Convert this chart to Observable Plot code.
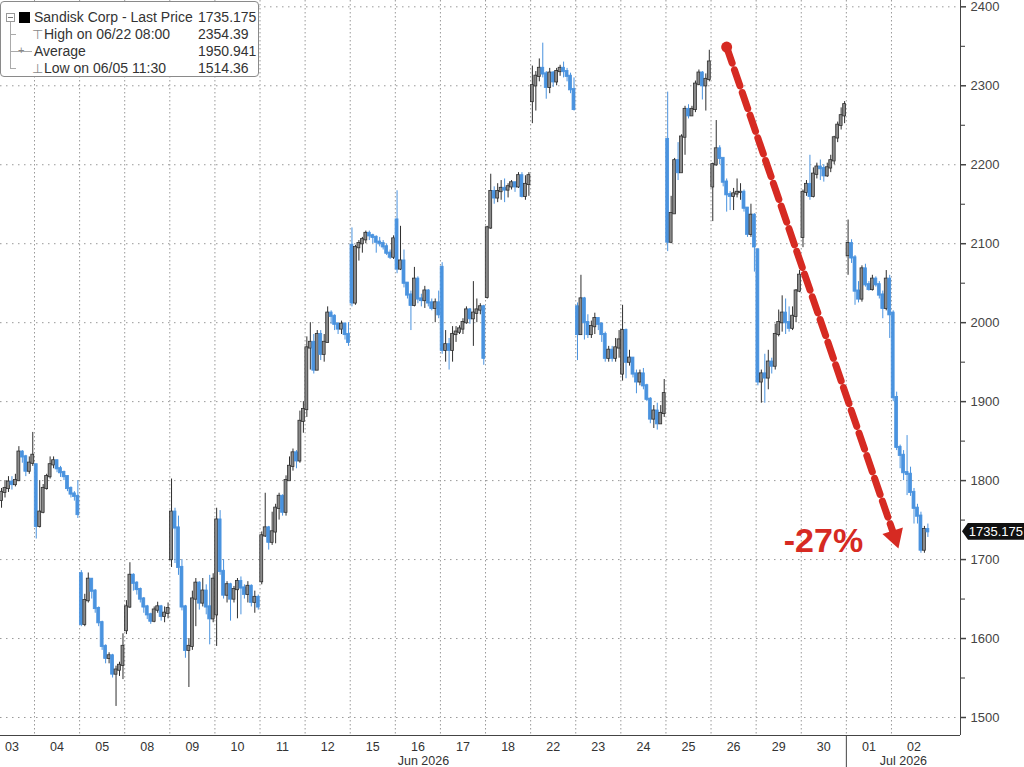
<!DOCTYPE html>
<html>
<head>
<meta charset="utf-8">
<script src="https://cdn.jsdelivr.net/npm/d3@7"></script>
<script src="https://cdn.jsdelivr.net/npm/@observablehq/plot@0.6"></script>
<style>
  html, body { margin: 0; padding: 0; background: #fff; overflow: hidden; }
  #wrap { position: relative; width: 1024px; height: 767px; font-family: "Liberation Sans", Arial, sans-serif; }
  #legend { position: absolute; left: 0px; top: 1px; width: 259px; height: 76px; box-sizing: border-box;
    background: #fff; border: 1px solid #8a8a8a; border-radius: 4px; color: #333; font-size: 14px; }
  #legend .t { position: absolute; line-height: 17px; white-space: nowrap; }
  #legend .v { position: absolute; left: 197px; line-height: 17px; }
  #legend .g { position: absolute; background: #aaa; }
  #tag { position: absolute; left: 962px; width: 62px; height: 17px; background: #111; color: #fff;
    font-size: 13px; line-height: 17px; text-align: right; box-sizing: border-box; padding-right: 1px;
    clip-path: polygon(6px 0, 100% 0, 100% 100%, 6px 100%, 0 50%); }
</style>
</head>
<body>
<div id="wrap">
  <div id="chart"></div>
  <div id="legend"></div>
  <div id="tag"></div>
</div>
<script>
// ---------------- data ----------------
const days = ["03","04","05","08","09","10","11","12","15","16","17","18","22","23","24","25","26","29","30","01","02"];
const months = ["Jun 2026", "Jul 2026"];
const firstSlot = 3;          // first visible half-hour slot of 03 Jun
const slotsPerDay = 13;
const julyStartDay = 19;      // index of "01" in days
const dayOpen = [1775,1820,1682,1610,1700,1630,1672,1890,2098,2130,2070,2032,2280,2020,1935,2232,2172,2092,2108,2085,2012];
const closes = [
  [1785,1790,1798,1795,1800,1836,1830,1812,1822,1832],
  [1742,1760,1790,1805,1820,1825,1815,1810,1805,1790,1783,1780,1757],
  [1618,1648,1675,1660,1638,1620,1590,1575,1578,1555,1560,1566,1590],
  [1640,1680,1670,1662,1650,1640,1630,1622,1636,1640,1628,1632,1638],
  [1760,1740,1690,1640,1585,1590,1650,1670,1645,1660,1640,1625,1675],
  [1750,1685,1655,1668,1650,1662,1672,1664,1656,1666,1646,1652,1640],
  [1730,1740,1722,1735,1765,1780,1760,1800,1818,1835,1825,1875,1890],
  [1968,1975,1940,1985,1960,1975,2012,2008,1998,1992,1998,1985,1975],
  [2025,2095,2100,2105,2113,2110,2108,2102,2100,2096,2088,2083,2106],
  [2068,2078,2050,2035,2022,2055,2030,2028,2040,2025,2018,2025,2010],
  [1965,1972,1965,1985,1988,1992,2000,2016,2005,2012,2016,2020,1955],
  [2120,2166,2158,2166,2170,2168,2172,2177,2172,2186,2160,2175,2186],
  [2300,2312,2322,2315,2298,2316,2305,2318,2322,2318,2312,2295,2270],
  [1985,2030,2000,1985,1995,2005,1998,1985,1955,1965,1955,1968,1978],
  [1990,1950,1955,1935,1925,1935,1920,1903,1878,1888,1872,1885,1910],
  [2102,2138,2205,2190,2235,2270,2262,2270,2302,2316,2300,2308,2330],
  [2200,2220,2208,2178,2162,2160,2163,2165,2165,2145,2112,2136,2096],
  [1925,1935,1930,1950,1945,1985,2000,2012,2000,1993,2008,2040,2060],
  [2165,2175,2160,2188,2197,2195,2186,2196,2205,2234,2250,2262,2276],
  [2100,2082,2040,2030,2068,2048,2042,2055,2048,2035,2018,2055,2010],
  [1905,1842,1832,1810,1808,1785,1765,1755,1712,1738,1735.175]
];
const highs = [
  [1790,1800,1805,1805,1808,1843,1838,1832,1830,1861],
  [1820,1800,1795,1808,1830,1830,1826,1818,1812,1806,1792,1786,1800],
  [1686,1656,1683,1676,1662,1640,1622,1592,1582,1580,1565,1570,1606],
  [1648,1696,1682,1672,1664,1652,1642,1632,1640,1646,1642,1640,1645],
  [1802,1765,1755,1700,1642,1600,1660,1676,1672,1676,1668,1680,1682],
  [1765,1762,1700,1672,1670,1666,1676,1678,1668,1672,1668,1660,1655],
  [1735,1784,1742,1760,1770,1784,1782,1806,1830,1840,1838,1888,1900],
  [1982,2000,1985,1990,1990,1985,2020,2015,2010,2000,2002,2000,2000],
  [2120,2098,2104,2108,2116,2116,2112,2110,2108,2104,2100,2092,2110],
  [2167,2122,2092,2050,2040,2070,2058,2036,2046,2042,2030,2030,2040],
  [2076,1990,1980,1995,1995,1996,2005,2020,2018,2052,2030,2024,2022],
  [2122,2188,2172,2176,2180,2182,2176,2180,2178,2190,2190,2186,2190],
  [2325,2318,2334,2354,2318,2322,2318,2322,2326,2330,2322,2316,2310],
  [2025,2060,2032,2010,2002,2012,2006,2000,1988,1970,1970,1980,1990],
  [2022,1992,1965,1955,1940,1940,1942,1922,1905,1895,1898,1895,1928],
  [2292,2160,2208,2228,2238,2274,2276,2274,2306,2320,2318,2315,2345],
  [2202,2256,2224,2205,2182,2166,2170,2182,2176,2168,2145,2150,2138],
  [2094,1940,1960,1965,1955,1998,2016,2034,2030,2020,2020,2042,2066],
  [2168,2180,2212,2196,2202,2206,2200,2202,2212,2236,2254,2272,2280],
  [2130,2105,2085,2052,2072,2074,2052,2060,2058,2052,2040,2066,2060],
  [2015,1912,1845,1838,1857,1817,1790,1770,1760,1742,1745]
];
const lows = [
  [1765,1778,1785,1788,1792,1800,1822,1805,1808,1818],
  [1726,1740,1758,1788,1802,1815,1810,1804,1800,1786,1778,1774,1752],
  [1615,1615,1645,1650,1632,1615,1585,1568,1568,1550,1514,1552,1548],
  [1605,1638,1660,1655,1645,1632,1624,1618,1620,1632,1622,1620,1625],
  [1690,1695,1680,1635,1575,1538,1585,1615,1636,1640,1630,1592,1620],
  [1590,1680,1650,1645,1622,1645,1625,1630,1650,1645,1640,1632,1636],
  [1668,1728,1712,1718,1720,1750,1755,1755,1800,1812,1815,1822,1860],
  [1880,1940,1935,1940,1952,1950,1975,1998,1990,1985,1985,1978,1970],
  [2020,2022,2078,2088,2100,2104,2100,2088,2096,2092,2085,2080,2080],
  [2062,2066,2044,2030,1990,2020,2024,2020,2018,2020,2015,2000,2005],
  [1960,1950,1940,1950,1975,1985,1985,1998,1998,1970,2000,2010,1946],
  [2030,2118,2150,2152,2155,2152,2158,2168,2165,2170,2158,2155,2160],
  [2252,2268,2305,2310,2283,2290,2298,2300,2312,2310,2305,2290,2268],
  [1952,1985,1978,1980,1980,1985,1990,1975,1950,1950,1950,1950,1955],
  [1926,1929,1945,1930,1910,1920,1915,1900,1872,1866,1864,1872,1880],
  [2090,2100,2138,2180,2190,2212,2258,2262,2266,2300,2282,2268,2305],
  [2128,2198,2200,2172,2140,2142,2142,2158,2155,2140,2108,2108,2064],
  [1920,1898,1898,1915,1935,1940,1982,1988,1985,1988,1990,2000,2038],
  [2095,2160,2155,2158,2182,2180,2178,2184,2190,2200,2228,2244,2252],
  [2060,2075,2022,2025,2026,2045,2040,2040,2045,2030,2005,2015,1980],
  [1900,1838,1815,1800,1781,1780,1745,1745,1708,1708,1728]
];
const lastPrice = 1735.175;
const yTicks = [1500,1600,1700,1800,1900,2000,2100,2200,2300,2400];
const yMinorTicks = [1550,1650,1750,1850,1950,2050,2150,2250,2350];
const legendRows = [
  {label: "Sandisk Corp - Last Price", value: "1735.175"},
  {label: "High on 06/22 08:00", value: "2354.39"},
  {label: "Average", value: "1950.941"},
  {label: "Low on 06/05 11:30", value: "1514.36"}
];
// annotation (slot index, price)
const arrowFrom = {i: 212, price: 2349};
const arrowTo = {i: 260.4, price: 1729};
const changeLabel = {i: 239.9, price: 1724, text: "-27%"};

// ---------------- build ----------------
const candles = [];
let prev = null;
days.forEach((d, k) => {
  const s0 = k === 0 ? firstSlot : 0;
  closes[k].forEach((c, j) => {
    const open = j === 0 ? dayOpen[k] : prev;
    candles.push({i: k * slotsPerDay + s0 + j, open, close: c, high: highs[k][j], low: lows[k][j]});
    prev = c;
  });
});
const xDomain = [2.7, 279.4];
const yDomain = [1477.2, 2408];
const boundaries = days.slice(1).map((d, k) => (k + 1) * slotsPerDay - 0.5);
const sep = julyStartDay * slotsPerDay - 0.5;
const dayLabels = days.map((d, k) => ({x: k * slotsPerDay + 6, text: d}));
const monthLabels = [
  {x: (xDomain[0] + sep) / 2, text: months[0]},
  {x: (sep + xDomain[1]) / 2, text: months[1]}
];
const BLUE = "#4a93df", GRAY = "#8a8a8a", DARK = "#2e2e2e", RED = "#d62a22";
const isDown = d => d.close < d.open;
const half = 0.42;

const chart = Plot.plot({
  width: 1024, height: 767,
  marginTop: 0, marginBottom: 32, marginLeft: 0, marginRight: 64,
  style: {fontFamily: "Liberation Sans, Arial, sans-serif", fontSize: "13px", color: "#333", background: "#fff"},
  x: {type: "linear", domain: xDomain, axis: null},
  y: {type: "linear", domain: yDomain, axis: null},
  marks: [
    Plot.ruleY(yTicks, {stroke: "#999", strokeDasharray: "1.5,4.5"}),
    Plot.ruleX(boundaries, {stroke: "#999", strokeDasharray: "1.5,2.5"}),
    Plot.ruleX(candles, {x: "i", y1: "low", y2: "high", stroke: d => isDown(d) ? BLUE : DARK, strokeWidth: 1}),
    Plot.rect(candles, {
      x1: d => d.i - half, x2: d => d.i + half,
      y1: d => Math.min(d.open, d.close) - 0.8, y2: d => Math.max(d.open, d.close) + 0.8,
      fill: d => isDown(d) ? BLUE : GRAY, stroke: d => isDown(d) ? BLUE : DARK, strokeWidth: 0.8
    }),
    Plot.ruleX([xDomain[1]], {stroke: "#444"}),
    Plot.ruleY([yDomain[0]], {stroke: "#444"}),
    Plot.ruleX([sep], {y1: yDomain[0], y2: yDomain[0] - 45, stroke: "#444"}),
    Plot.axisY({anchor: "right", ticks: yTicks, tickSize: 5, tickPadding: 5, label: null, tickFormat: d => String(d), fontSize: 13, color: "#444", strokeWidth: 1.5}),
    Plot.axisY({anchor: "right", ticks: yMinorTicks, tickSize: 4, label: null, tickFormat: () => ""}),
    Plot.text(dayLabels, {x: "x", y: () => yDomain[0], text: "text", dy: 11, fontSize: 12.5, fill: "#333"}),
    Plot.text(monthLabels, {x: "x", y: () => yDomain[0], text: "text", dy: 25, fontSize: 12.5, fill: "#333"}),
    Plot.line([arrowFrom, arrowTo], {x: "i", y: "price", stroke: RED, strokeWidth: 7, strokeDasharray: "17,7"}),
    Plot.dot([arrowFrom], {x: "i", y: "price", r: 5.5, fill: RED}),
    Plot.dot([arrowTo], {x: "i", y: "price", symbol: "triangle", r: 8, fill: RED, rotate: 162}),
    Plot.text([changeLabel], {x: "i", y: "price", text: "text", fontSize: 34, fontWeight: "bold", fill: RED})
  ]
});
document.getElementById("chart").appendChild(chart);

// price tag aligned with the y scale
const tag = document.getElementById("tag");
tag.textContent = lastPrice.toFixed(3);
tag.style.top = (chart.scale("y").apply(lastPrice) - 8.5) + "px";

// legend
const lg = document.getElementById("legend");
const rowY = [7, 24, 41, 58];
let html = "";
html += `<div class="g" style="left:9px;top:20px;width:1px;height:47px"></div>`;
html += `<div class="g" style="left:9px;top:32px;width:6px;height:1px"></div>`;
html += `<div class="g" style="left:9px;top:49px;width:22px;height:1px"></div>`;
html += `<div class="t" style="left:17px;top:${rowY[2] - 1}px;color:#888;font-size:11px">+</div>`;
html += `<div class="g" style="left:9px;top:66px;width:6px;height:1px"></div>`;
html += `<div style="position:absolute;left:5px;top:11px;width:7px;height:7px;border:1px solid #999;background:#fff"></div>`;
html += `<div class="g" style="left:7px;top:15px;width:5px;height:1px;background:#777"></div>`;
html += `<div style="position:absolute;left:18px;top:10px;width:11px;height:11px;background:#000"></div>`;
html += `<div class="t" style="left:31px;top:${rowY[1]}px;color:#888;font-size:13px">&#x22A4;</div>`;
html += `<div class="t" style="left:31px;top:${rowY[3]}px;color:#888;font-size:13px">&#x22A5;</div>`;
const labelLeft = [33, 43, 33, 43];
legendRows.forEach((r, k) => {
  html += `<div class="t" style="left:${labelLeft[k]}px;top:${rowY[k]}px">${r.label}</div>`;
  html += `<div class="v" style="top:${rowY[k]}px">${r.value}</div>`;
});
lg.innerHTML = html;
</script>
</body>
</html>
